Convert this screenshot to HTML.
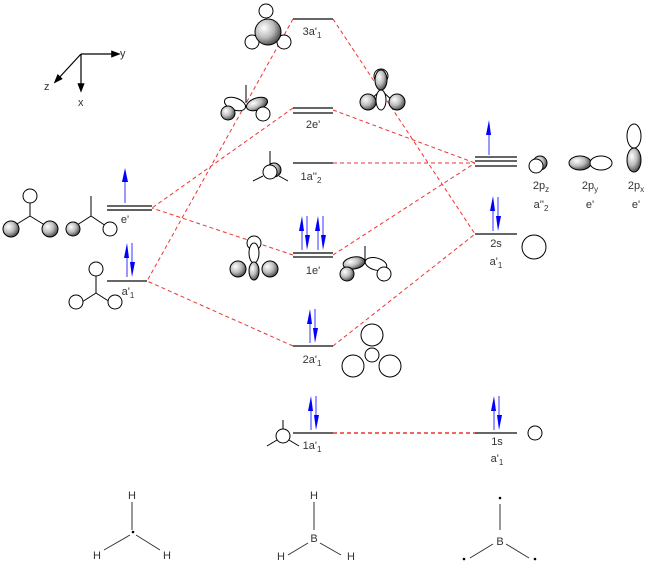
<!DOCTYPE html>
<html><head><meta charset="utf-8"><style>
body{margin:0;background:#fff}
svg{display:block}
text{font-family:"Liberation Sans",sans-serif;font-size:11px;fill:#333}
</style></head><body>
<svg width="653" height="567" viewBox="0 0 653 567" xmlns="http://www.w3.org/2000/svg">
<defs>
<radialGradient id="g" cx="0.35" cy="0.35" r="0.75"><stop offset="0" stop-color="#fff"/><stop offset="0.5" stop-color="#bbb"/><stop offset="1" stop-color="#333"/></radialGradient>
<marker id="ah" markerWidth="8" markerHeight="8" refX="4" refY="4" orient="auto"><path d="M0,1 L8,4 L0,7z" fill="#000"/></marker>
</defs>
<!-- axes -->
<g stroke="#000" stroke-width="1.2" fill="none">
<line x1="81" y1="54" x2="116" y2="54" marker-end="url(#ah)"/>
<line x1="81" y1="54" x2="81" y2="88" marker-end="url(#ah)"/>
<line x1="81" y1="54" x2="57" y2="80" marker-end="url(#ah)"/>
</g>
<text x="120" y="57">y</text><text x="78" y="106">x</text><text x="44" y="90">z</text>

<!-- dashed connectors -->
<g stroke="#e33" stroke-width="1" stroke-dasharray="4,3" fill="none">
<line x1="293" y1="19" x2="147" y2="281"/>
<line x1="333" y1="19" x2="475" y2="234"/>
<line x1="293" y1="108" x2="152" y2="208"/>
<line x1="333" y1="110" x2="475" y2="163"/>
<line x1="333" y1="163" x2="475" y2="163"/>
<line x1="293" y1="255" x2="152" y2="208"/>
<line x1="333" y1="255" x2="475" y2="163"/>
<line x1="293" y1="346" x2="147" y2="281"/>
<line x1="333" y1="346" x2="475" y2="234"/>
<line x1="333" y1="433" x2="475" y2="433" stroke-width="1.5"/>
</g>

<!-- levels -->
<g stroke="#666" stroke-width="2">
<line x1="293" y1="19" x2="333" y2="19"/>
<line x1="293" y1="108" x2="333" y2="108"/><line x1="293" y1="113" x2="333" y2="113"/>
<line x1="293" y1="163" x2="333" y2="163"/>
<line x1="293" y1="253" x2="333" y2="253" stroke="#000" stroke-width="1.2"/><line x1="293" y1="257" x2="333" y2="257"/>
<line x1="293" y1="346" x2="333" y2="346"/>
<line x1="293" y1="433" x2="333" y2="433"/>
<line x1="107" y1="206" x2="152" y2="206"/><line x1="107" y1="210" x2="152" y2="210" stroke="#000" stroke-width="1.2"/>
<line x1="107" y1="281" x2="147" y2="281"/>
<line x1="475" y1="157" x2="517" y2="157"/><line x1="475" y1="161" x2="517" y2="161"/><line x1="475" y1="166" x2="517" y2="166"/>
<line x1="475" y1="234" x2="517" y2="234"/>
<line x1="475" y1="433" x2="517" y2="433"/>
</g>

<!-- electrons -->
<g stroke="#77f" stroke-width="1.5" fill="#00f">
<line x1="125" y1="203" x2="125" y2="176"/><path d="M122,182 L125,168 L128,182z" stroke="none"/>
<line x1="127" y1="277" x2="127" y2="252"/><path d="M124,258 L127,243 L129,258z" stroke="none"/>
<line x1="132" y1="243" x2="132" y2="268"/><path d="M130,262 L132,277 L135,262z" stroke="none"/>
<line x1="302" y1="250" x2="302" y2="225"/><path d="M299,231 L302,216 L304,231z" stroke="none"/>
<line x1="307" y1="216" x2="307" y2="241"/><path d="M305,235 L307,250 L310,235z" stroke="none"/>
<line x1="318" y1="250" x2="318" y2="225"/><path d="M315,231 L318,216 L320,231z" stroke="none"/>
<line x1="323" y1="216" x2="323" y2="241"/><path d="M321,235 L323,250 L326,235z" stroke="none"/>
<line x1="489" y1="155" x2="489" y2="129"/><path d="M486,135 L489,120 L491,135z" stroke="none"/>
<line x1="493" y1="231" x2="493" y2="205"/><path d="M490,211 L493,196 L495,211z" stroke="none"/>
<line x1="498" y1="197" x2="498" y2="222"/><path d="M496,216 L498,231 L501,216z" stroke="none"/>
<line x1="310" y1="343" x2="310" y2="318"/><path d="M307,324 L310,309 L312,324z" stroke="none"/>
<line x1="315" y1="309" x2="315" y2="334"/><path d="M313,328 L315,343 L318,328z" stroke="none"/>
<line x1="311" y1="430" x2="311" y2="405"/><path d="M308,411 L311,396 L313,411z" stroke="none"/>
<line x1="316" y1="396" x2="316" y2="421"/><path d="M314,415 L316,430 L319,415z" stroke="none"/>
<line x1="494" y1="430" x2="494" y2="405"/><path d="M491,411 L494,396 L496,411z" stroke="none"/>
<line x1="499" y1="396" x2="499" y2="421"/><path d="M497,415 L499,430 L502,415z" stroke="none"/>
</g>

<!-- labels -->
<g text-anchor="middle">
<text x="312" y="35">3a'<tspan font-size="8" dy="3">1</tspan></text>
<text x="313" y="128">2e'</text>
<text x="311" y="180">1a''<tspan font-size="8" dy="3">2</tspan></text>
<text x="313" y="274">1e'</text>
<text x="312" y="363">2a'<tspan font-size="8" dy="3">1</tspan></text>
<text x="312" y="449">1a'<tspan font-size="8" dy="3">1</tspan></text>
<text x="125" y="223">e'</text>
<text x="128" y="295">a'<tspan font-size="8" dy="3">1</tspan></text>
<text x="496" y="247">2s</text>
<text x="496" y="265">a'<tspan font-size="8" dy="3">1</tspan></text>
<text x="497" y="445">1s</text>
<text x="497" y="462">a'<tspan font-size="8" dy="3">1</tspan></text>
<text x="541" y="189">2p<tspan font-size="8" dy="3">z</tspan></text>
<text x="541" y="208">a''<tspan font-size="8" dy="3">2</tspan></text>
<text x="590" y="189">2p<tspan font-size="8" dy="3">y</tspan></text>
<text x="590" y="208">e'</text>
<text x="636" y="189">2p<tspan font-size="8" dy="3">x</tspan></text>
<text x="636" y="208">e'</text>
</g>

<!-- orbital pictures -->
<g stroke="#000" stroke-width="1" fill="#fff">
<!-- left e' pics -->
<line x1="30" y1="203" x2="30" y2="216"/><line x1="30" y1="216" x2="12" y2="227"/><line x1="30" y1="216" x2="48" y2="227"/>
<circle cx="30" cy="196" r="7"/><circle cx="11" cy="229" r="8" fill="url(#g)"/><circle cx="50" cy="229" r="8" fill="url(#g)"/>
<line x1="91" y1="196" x2="91" y2="216"/><line x1="91" y1="216" x2="74" y2="227"/><line x1="91" y1="216" x2="106" y2="226"/>
<circle cx="73" cy="229" r="7" fill="url(#g)"/><circle cx="110" cy="229" r="7"/>
<!-- a'1 left -->
<line x1="96" y1="275" x2="96" y2="293"/><line x1="96" y1="293" x2="82" y2="302"/><line x1="96" y1="293" x2="110" y2="302"/>
<circle cx="96" cy="269" r="7"/><circle cx="76" cy="302" r="7"/><circle cx="115" cy="302" r="7"/>
<!-- 3a'1 -->
<circle cx="266" cy="11" r="7"/><circle cx="252" cy="42" r="7"/><circle cx="284" cy="42" r="7"/>
<circle cx="268" cy="32" r="13" fill="url(#g)"/>
<!-- 2e' left -->
<line x1="246" y1="85" x2="246" y2="103"/>
<ellipse cx="235" cy="104" rx="11" ry="6" transform="rotate(20 235 104)"/>
<ellipse cx="257" cy="104" rx="11" ry="6" transform="rotate(-20 257 104)" fill="url(#g)"/>
<circle cx="228" cy="113" r="7" fill="url(#g)"/><circle cx="263" cy="114" r="7"/>
<!-- 3a'1 right pic -->
<circle cx="381" cy="76" r="7"/>
<line x1="381" y1="90" x2="368" y2="102"/><line x1="381" y1="90" x2="394" y2="102"/>
<ellipse cx="381" cy="80" rx="6" ry="10" fill="url(#g)"/><ellipse cx="381" cy="100" rx="5" ry="10"/>
<circle cx="368" cy="102" r="8" fill="url(#g)"/><circle cx="397" cy="102" r="8" fill="url(#g)"/>
<!-- 1a''2 -->
<line x1="270" y1="151" x2="270" y2="168"/><line x1="263" y1="176" x2="253" y2="181"/><line x1="279" y1="176" x2="288" y2="181"/>
<circle cx="274" cy="170" r="7" fill="url(#g)"/><circle cx="270" cy="172" r="7"/>
<!-- 1e' left -->
<circle cx="254" cy="243" r="7"/>
<ellipse cx="254" cy="253" rx="5" ry="10"/>
<ellipse cx="254" cy="271" rx="5" ry="9" fill="url(#g)"/>
<circle cx="238" cy="269" r="8" fill="url(#g)"/><circle cx="270" cy="269" r="8" fill="url(#g)"/>
<!-- 1e' right -->
<line x1="365" y1="246" x2="365" y2="261"/>
<ellipse cx="354" cy="263" rx="11" ry="6" transform="rotate(-10 354 263)" fill="url(#g)"/>
<ellipse cx="376" cy="264" rx="11" ry="6" transform="rotate(15 376 264)"/>
<circle cx="347" cy="274" r="7" fill="url(#g)"/><circle cx="384" cy="274" r="7"/>
<!-- 2a'1 right -->
<circle cx="372" cy="335" r="11"/><circle cx="353" cy="366" r="11"/><circle cx="390" cy="366" r="11"/><circle cx="372" cy="355" r="7"/>
<!-- 1a'1 -->
<line x1="283" y1="420" x2="283" y2="430"/><line x1="277" y1="440" x2="267" y2="446"/><line x1="289" y1="440" x2="299" y2="446"/>
<circle cx="283" cy="436" r="7"/>
<!-- 2s, 1s -->
<circle cx="534" cy="247" r="12"/><circle cx="535" cy="433" r="7"/>
<!-- 2pz -->
<circle cx="540" cy="163" r="7" fill="url(#g)"/><circle cx="536" cy="166" r="7"/>
<!-- 2py -->
<ellipse cx="580" cy="163" rx="11" ry="7" fill="url(#g)"/><ellipse cx="601" cy="163" rx="11" ry="7"/>
<!-- 2px -->
<ellipse cx="634" cy="136" rx="7" ry="12"/><ellipse cx="634" cy="160" rx="7" ry="12" fill="url(#g)"/>
</g>

<!-- bottom structures -->
<g stroke="#333" stroke-width="1">
<line x1="132" y1="502" x2="132" y2="530"/><line x1="130" y1="535" x2="104" y2="550"/><line x1="136" y1="535" x2="160" y2="550"/>
<line x1="314" y1="502" x2="314" y2="530"/><line x1="308" y1="543" x2="288" y2="555"/><line x1="320" y1="543" x2="341" y2="555"/>
<line x1="500" y1="504" x2="500" y2="530"/><line x1="493" y1="544" x2="470" y2="558"/><line x1="506" y1="544" x2="529" y2="558"/>
</g>
<g fill="#000"><circle cx="133" cy="532" r="1.3"/><circle cx="500" cy="498" r="1.3"/><circle cx="464" cy="559" r="1.3"/><circle cx="535" cy="559" r="1.3"/></g>
<g style="font-size:12px" text-anchor="middle">
<text x="132" y="499">H</text><text x="97" y="559">H</text><text x="167" y="559">H</text>
<text x="314" y="499">H</text><text x="314" y="542">B</text><text x="281" y="560">H</text><text x="351" y="560">H</text>
<text x="500" y="545">B</text>
</g>
</svg>
</body></html>
